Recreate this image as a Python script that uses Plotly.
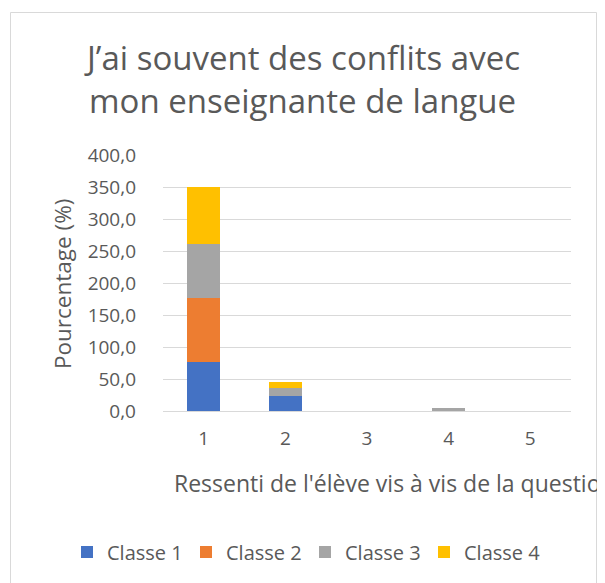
import plotly.graph_objects as go

categories = ["1", "2", "3", "4", "5"]
series_names = ["Classe 1", "Classe 2", "Classe 3", "Classe 4"]
classe1 = [76.9, 23.1, 0.0, 0.0, 0.0]
classe2 = [100.0, 0.0, 0.0, 0.0, 0.0]
classe3 = [83.3, 12.5, 0.0, 4.2, 0.0]
classe4 = [90.0, 10.0, 0.0, 0.0, 0.0]
colors = ["#4472C4", "#ED7D31", "#A5A5A5", "#FFC000"]
y_ticks = [0, 50, 100, 150, 200, 250, 300, 350, 400]

title_lines = ["J\u2019ai souvent des conflits avec", "mon enseignante de langue"]
y_title = "Pourcentage (%)"
x_title = "Ressenti de l'élève vis à vis de la question"

FONT = "Open Sans"
GREY = "#595959"

OFF = 8  # page body margin
W, H = 605 - OFF - 7, 583 - OFF
# plot area in page coordinates
PL, PR, PT, PB = 163, 571, 155, 411
L, R, T, B = PL - OFF, PR - OFF, PT - OFF, PB - OFF

def px(x):
    return (x - PL) / (PR - PL)

def py(y):
    return (PB - y) / (PB - PT)

fig = go.Figure()
for name, vals, c in zip(series_names, [classe1, classe2, classe3, classe4], colors):
    fig.add_trace(go.Bar(x=categories, y=vals, name=name, marker=dict(color=c, line=dict(width=0))))

annotations = [
    dict(text=title_lines[0], x=px(302), y=py(57), xref="paper", yref="paper",
         xanchor="center", yanchor="middle", showarrow=False,
         font=dict(family=FONT, size=33, color=GREY)),
    dict(text=title_lines[1], x=px(302), y=py(100), xref="paper", yref="paper",
         xanchor="center", yanchor="middle", showarrow=False,
         font=dict(family=FONT, size=33, color=GREY)),
    dict(text=y_title, x=px(62), y=py(284), xref="paper", yref="paper",
         xanchor="center", yanchor="middle", showarrow=False, textangle=-90,
         font=dict(family=FONT, size=22.5, color=GREY)),
    dict(text=x_title, x=px(172), y=py(483), xref="paper", yref="paper",
         xanchor="left", yanchor="middle", showarrow=False,
         font=dict(family=FONT, size=23, color=GREY)),
]

fig.update_layout(
    width=W, height=H,
    margin=dict(l=L, r=W - R, t=T, b=H - B, autoexpand=False),
    paper_bgcolor="white", plot_bgcolor="white",
    barmode="stack", bargap=0.6,
    separators=", ",
    font=dict(family=FONT, color=GREY, size=18),
    annotations=annotations,
    showlegend=True,
    legend=dict(orientation="h", x=px(67), y=py(552), xanchor="left", yanchor="middle",
                font=dict(family=FONT, size=20, color=GREY), traceorder="normal",
                itemwidth=30, entrywidth=74),
    shapes=[dict(type="rect", xref="paper", yref="paper",
                 x0=px(10.5), x1=px(596.5), y0=py(600), y1=py(12.5),
                 line=dict(color="#d9d9d9", width=1), fillcolor="rgba(0,0,0,0)", layer="below")],
    xaxis=dict(showgrid=False, showline=False, ticks="", tickfont=dict(size=19, color=GREY),
               zeroline=False, ticklabelstandoff=14),
    yaxis=dict(range=[0, 400], tickvals=y_ticks, tickformat=".1f", showgrid=True,
               gridcolor="#d9d9d9", gridwidth=1, zeroline=True, zerolinecolor="#d9d9d9",
               zerolinewidth=1, showline=False, ticks="", tickfont=dict(size=19, color=GREY),
               ticklabelstandoff=26),
)

fig.write_html("out.html")
